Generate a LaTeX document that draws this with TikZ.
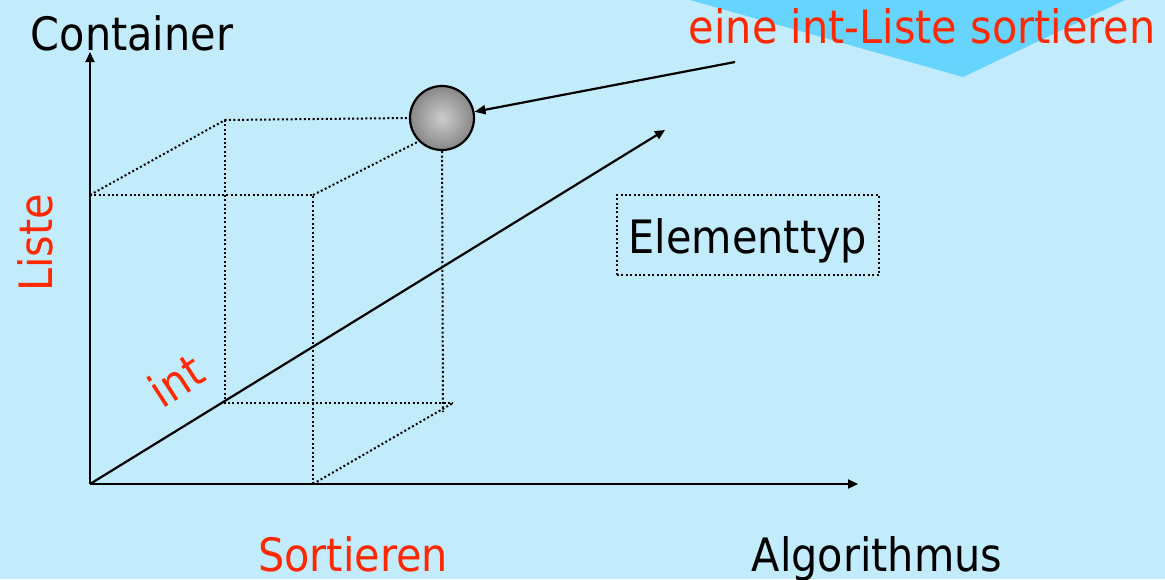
\documentclass[tikz,border=0pt]{standalone}
\usepackage{fontspec}
\setmainfont{DejaVu Sans Condensed}
\usetikzlibrary{arrows.meta}
\definecolor{bg}{RGB}{194,235,252}
\definecolor{callout}{RGB}{102,212,252}
\definecolor{redtxt}{RGB}{255,40,0}
\definecolor{ballin}{RGB}{205,205,205}
\definecolor{ballout}{RGB}{135,135,135}
\begin{document}
\begin{tikzpicture}[x=1pt,y=-1pt,
  lbl/.style={font=\fontsize{46}{50}\selectfont, inner sep=0pt},
  redlbl/.style={lbl, text=redtxt},
  axis/.style={line width=2.2pt, -{Triangle[length=10pt,width=9pt]}},
  dots/.style={line width=2pt, dash pattern=on 2pt off 2.4pt},
  sphere/.style={circle, draw, line width=2.2pt, minimum size=64pt, inner sep=0pt,
    shading=radial, inner color=ballin, outer color=ballout},
  pointer/.style={line width=2.2pt, -{Triangle[length=11pt,width=9pt]}},
  dotbox/.style={draw, dots, minimum width=262pt, minimum height=80pt, inner sep=0pt},
]
\fill[bg] (0,0) rectangle (1165,579);
\useasboundingbox (0,0) rectangle (1165,579);
\fill[callout] (690,0) -- (963,77) -- (1125,0) -- cycle;

\coordinate (O) at (90,484);
\coordinate (Ytip) at (90,52);
\coordinate (Xtip) at (858,484);
\coordinate (Ztip) at (665,130);
\coordinate (F1) at (90,195);
\coordinate (F2) at (313,195);
\coordinate (F3) at (313,484);
\coordinate (B1) at (225,120);
\coordinate (B4) at (225,403);
\coordinate (B3) at (453,403);
\coordinate (B2) at (443,412);

\node[sphere] (S) at (442,118) {};

% dotted box
\draw[dots] (F1) -- (F2) -- (F3);
\draw[dots] (F1) -- (B1) -- (S.west);
\draw[dots] (F2) -- (S.south west);
\draw[dots] (S.south) -- (B2);
\draw[dots] (B1) -- (B4) -- (B3);
\draw[dots] (F3) -- (B3);

% axes
\draw[axis] (O) -- (Ytip);
\draw[axis] (O) -- (Xtip);
\draw[axis] (O) -- (Ztip);

% pointer
\coordinate (A) at (735,62);
\draw[pointer] (A) -- (S);

% labels
\node[lbl, anchor=base] (cont) at (132,50) {Container};
\node[redlbl, anchor=base, rotate=90] (liste) at (52,243) {Liste};
\node[redlbl, rotate=33] (int) at (176,380) {int};
\node[redlbl, anchor=base] (sort) at (353,571) {Sortieren};
\node[lbl, anchor=base] (alg) at (877,571) {Algorithmus};
\node[redlbl, anchor=base] (title) at (922,43) {eine int-Liste sortieren};
\node[dotbox] (et) at (748,235) {};
\node[lbl, anchor=base] (ettext) at (748,253) {Elementtyp};
\end{tikzpicture}
\end{document}
